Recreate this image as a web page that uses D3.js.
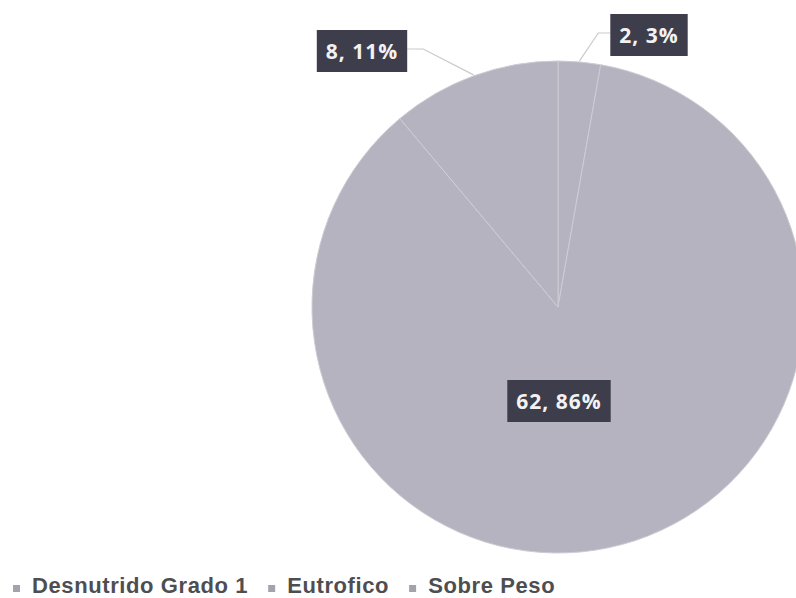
<!DOCTYPE html>
<html>
<head>
<meta charset="utf-8">
<script src="https://cdn.jsdelivr.net/npm/d3@7"></script>
<style>
  html, body { margin: 0; padding: 0; background: #ffffff; }
  svg { display: block; }
</style>
</head>
<body>
<svg id="chart" width="796" height="598"></svg>
<script>
// ---- data ----
const categories = ["Desnutrido Grado 1", "Eutrofico", "Sobre Peso"];
const values = [2, 62, 8];
const percents = ["3%", "86%", "11%"];

// ---- layout ----
const W = 796, H = 598;
const cx = 558, cy = 307, R = 246;
const sliceColors = ["#b5b3bf", "#b4b3bf", "#b5b3bf"];
const labelBoxFill = "#3e3d4c";

const svg = d3.select("#chart");
const g = svg.append("g").attr("transform", `translate(${cx},${cy})`);

const pie = d3.pie().sort(null).value(d => d.value);
const arcs = pie(categories.map((c, i) => ({ name: c, value: values[i], pct: percents[i] })));
const arc = d3.arc().innerRadius(0).outerRadius(R);

g.selectAll("path.slice")
  .data(arcs)
  .enter().append("path")
  .attr("class", "slice")
  .attr("d", arc)
  .attr("fill", (d, i) => sliceColors[i])
  .attr("stroke", "#cdccd4")
  .attr("stroke-width", 1);

function polar(a, r) { return [Math.sin(a) * r, -Math.cos(a) * r]; }

// label anchor positions relative to pie center
const labelPlacement = [
  { pos: [91, -272], leader: true },   // Desnutrido Grado 1 (outside, top right)
  { pos: [1, 94], leader: false },     // Eutrofico (inside)
  { pos: [-196, -256], leader: true }  // Sobre Peso (outside, top left)
];

const labels = g.selectAll("g.lbl")
  .data(arcs)
  .enter().append("g")
  .attr("class", "lbl");

labels.each(function (d, i) {
  const sel = d3.select(this);
  const p = labelPlacement[i];
  const txt = sel.append("text")
    .attr("x", p.pos[0])
    .attr("y", p.pos[1])
    .attr("text-anchor", "middle")
    .attr("dominant-baseline", "central")
    .attr("font-family", "'Open Sans', 'Liberation Sans', sans-serif")
    .attr("font-weight", "bold")
    .attr("font-size", 21)
    .attr("letter-spacing", 1)
    .attr("fill", "#f2f2f2")
    .text(`${d.data.value}, ${d.data.pct}`);
  const bb = txt.node().getBBox();
  const padX = 9, padY = 8;
  const box = {
    x: bb.x - padX, y: bb.y - padY + 1,
    w: bb.width + 2 * padX, h: bb.height + 2 * padY - 2
  };
  sel.insert("rect", "text")
    .attr("x", box.x).attr("y", box.y)
    .attr("width", box.w).attr("height", box.h)
    .attr("fill", labelBoxFill);

  if (p.leader) {
    const mid = (d.startAngle + d.endAngle) / 2;
    const edge = polar(mid, R + 1);
    const boxMidY = box.y + box.h / 2 - 2;
    let pts;
    if (p.pos[0] < 0) {
      const bx = box.x + box.w;
      pts = [[bx, boxMidY], [bx + 16, boxMidY], edge];
    } else {
      const bx = box.x;
      pts = [[bx, boxMidY], [bx - 12, boxMidY], edge];
    }
    sel.insert("path", "rect")
      .attr("d", d3.line()(pts))
      .attr("fill", "none")
      .attr("stroke", "#c9cacc")
      .attr("stroke-width", 1.2);
  }
});

// ---- legend ----
const legend = svg.append("g").attr("class", "legend");
let lx = 13;
const ly = 593;
categories.forEach((c, i) => {
  legend.append("rect")
    .attr("x", lx).attr("y", ly - 8)
    .attr("width", 7).attr("height", 7)
    .attr("fill", "#a3a2ad");
  const t = legend.append("text")
    .attr("x", lx + 19).attr("y", ly)
    .attr("font-family", "'Liberation Sans', Arial, sans-serif")
    .attr("font-weight", "bold")
    .attr("font-size", 22)
    .attr("letter-spacing", 0.6)
    .attr("fill", "#4e4e52")
    .text(c);
  const w = t.node().getComputedTextLength();
  lx = lx + 19 + w + 20;
});
</script>
</body>
</html>
